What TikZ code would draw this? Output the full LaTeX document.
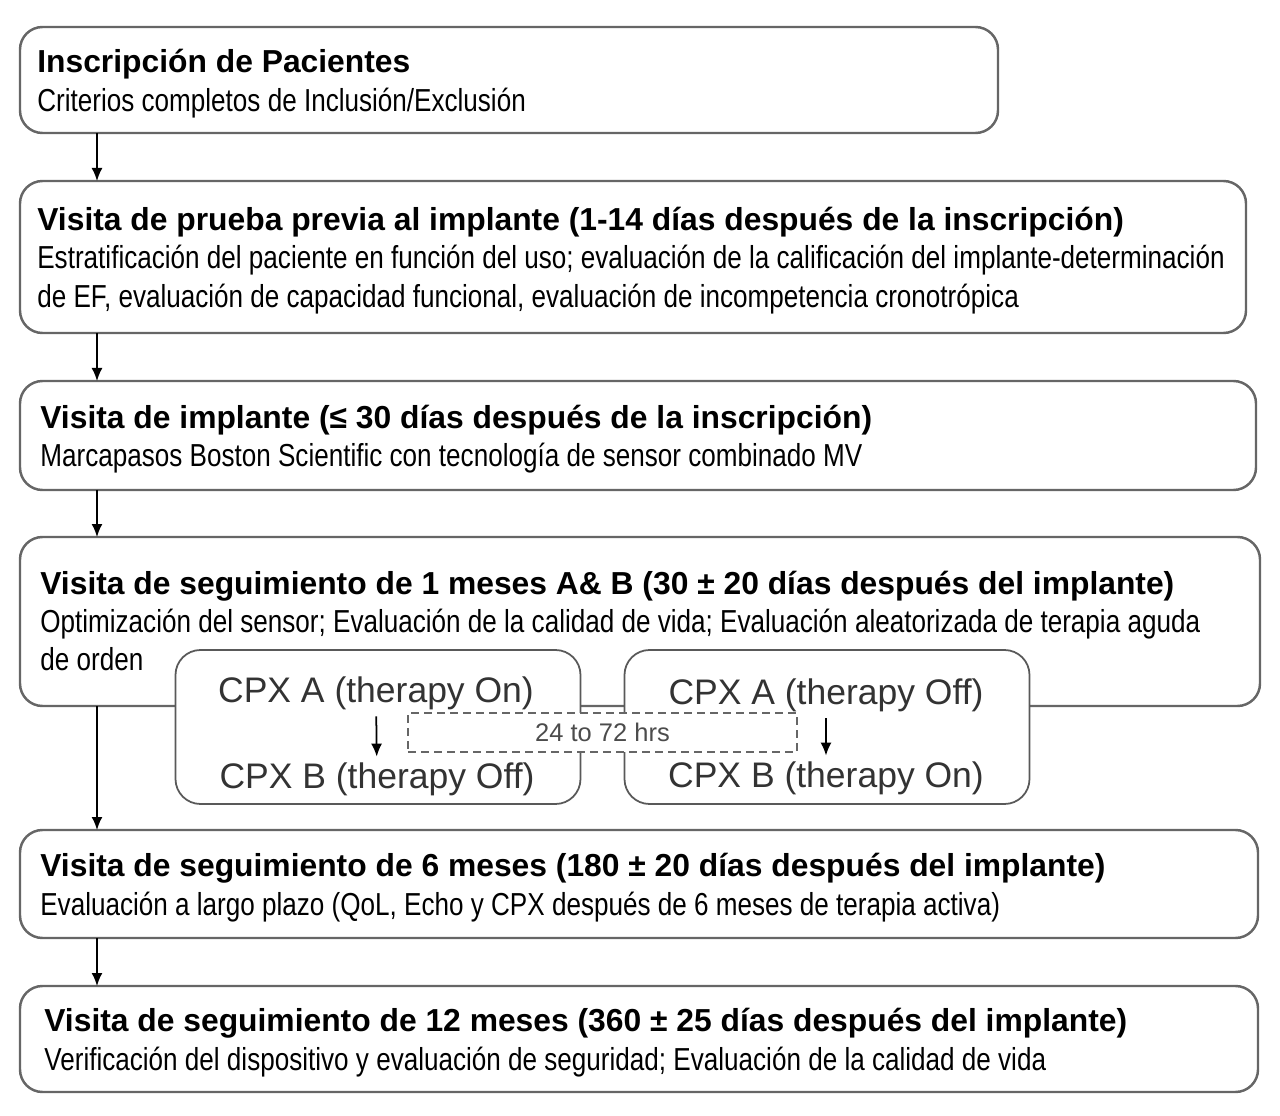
\documentclass[tikz,border=0pt]{standalone}
\usepackage{fontspec}
\setmainfont{Liberation Sans}
\newfontfamily\narrowfont[FakeStretch=0.82]{Liberation Sans}
\usetikzlibrary{arrows.meta,positioning}

\tikzset{
  stage/.style={draw=black!60, line width=1.4pt, rounded corners=0.45cm, fill=white, inner sep=0pt, outer sep=0pt},
  stagetext/.style={anchor=west, align=left, inner sep=0pt, yshift=-0.07cm, font=\fontsize{18.1}{21.8}\selectfont},
  cpx/.style={draw=black!65, line width=1pt, rounded corners=0.5cm, fill=white, minimum width=8.1cm, minimum height=3.08cm, inner sep=0pt},
  cpxtext/.style={text=black!80, font=\fontsize{20.2}{24}\selectfont, inner xsep=0pt, inner ysep=0.12cm},
  gapbox/.style={draw=black!60, line width=1pt, dash pattern=on 0.16cm off 0.1cm, fill=white, text=black!70, font=\fontsize{14.5}{17}\selectfont, minimum width=7.78cm, minimum height=0.78cm, inner sep=0pt},
  flow/.style={-{Latex[length=0.26cm,width=0.22cm]}, line width=1pt},
}

\begin{document}
\begin{tikzpicture}
  \useasboundingbox (0,0) rectangle (25.6,-22.32);
  \coordinate (ax) at (1.94,0);

  % stages
  \node[stage, minimum width=19.56cm, minimum height=2.12cm, anchor=north west] (enrol) at (0.4,-0.54) {};
  \node[stage, minimum width=24.52cm, minimum height=3.04cm, below=0.96cm of enrol.south west, anchor=north west] (preimp) {};
  \node[stage, minimum width=24.72cm, minimum height=2.18cm, below=0.96cm of preimp.south west, anchor=north west] (implant) {};
  \node[stage, minimum width=24.8cm, minimum height=3.38cm, below=0.94cm of implant.south west, anchor=north west] (fuone) {};
  \node[stage, minimum width=24.76cm, minimum height=2.16cm, below=2.48cm of fuone.south west, anchor=north west] (fusix) {};
  \node[stage, minimum width=24.76cm, minimum height=2.12cm, below=0.96cm of fusix.south west, anchor=north west] (futwelve) {};

  \node[stagetext] (enrolt) at ([xshift=0.34cm]enrol.west)
    {\textbf{Inscripción de Pacientes}\\
     \narrowfont Criterios completos de Inclusión/Exclusión};
  \node[stagetext] (preimpt) at ([xshift=0.34cm]preimp.west)
    {\textbf{Visita de prueba previa al implante (1-14 días después de la inscripción)}\\
     \narrowfont Estratificación del paciente en función del uso; evaluación de la calificación del implante-determinación\\
     \narrowfont de EF, evaluación de capacidad funcional, evaluación de incompetencia cronotrópica};
  \node[stagetext] (implantt) at ([xshift=0.4cm]implant.west)
    {\textbf{Visita de implante (≤ 30 días después de la inscripción)}\\
     \narrowfont Marcapasos Boston Scientific con tecnología de sensor combinado MV};
  \node[stagetext] (fuonet) at ([xshift=0.4cm,yshift=0.08cm]fuone.west)
    {\textbf{Visita de seguimiento de 1 meses A\& B (30 ± 20 días después del implante)}\\
     \narrowfont Optimización del sensor; Evaluación de la calidad de vida; Evaluación aleatorizada de terapia aguda\\
     \narrowfont de orden};
  \node[stagetext] (fusixt) at ([xshift=0.4cm]fusix.west)
    {\textbf{Visita de seguimiento de 6 meses (180 ± 20 días después del implante)}\\
     \narrowfont Evaluación a largo plazo (QoL, Echo y CPX después de 6 meses de terapia activa)};
  \node[stagetext] (futwelvet) at ([xshift=0.48cm]futwelve.west)
    {\textbf{Visita de seguimiento de 12 meses (360 ± 25 días después del implante)}\\
     \narrowfont Verificación del dispositivo y evaluación de seguridad; Evaluación de la calidad de vida};

  % crossover tests
  \node[cpx] (armon) at (7.56,-14.54) {};
  \node[cpx] (armoff) at (16.54,-14.54) {};
  \node[cpxtext] (cpxaon) at (7.52,-13.87) {CPX A (therapy On)};
  \node[cpxtext] (cpxboff) at (7.54,-15.59) {CPX B (therapy Off)};
  \node[cpxtext] (cpxaoff) at (16.52,-13.91) {CPX A (therapy Off)};
  \node[cpxtext] (cpxbon) at (16.52,-15.57) {CPX B (therapy On)};
  \node[gapbox] (washout) at (12.05,-14.65) {24 to 72 hrs};
  \draw[flow] (cpxaon) -- (cpxboff);
  \draw[flow] (cpxaoff) -- (cpxbon);

  % flow
  \draw[flow] (enrol.south -| ax) -- (preimp.north -| ax);
  \draw[flow] (preimp.south -| ax) -- (implant.north -| ax);
  \draw[flow] (implant.south -| ax) -- (fuone.north -| ax);
  \draw[flow] (fuone.south -| ax) -- (fusix.north -| ax);
  \draw[flow] (fusix.south -| ax) -- (futwelve.north -| ax);
\end{tikzpicture}
\end{document}
